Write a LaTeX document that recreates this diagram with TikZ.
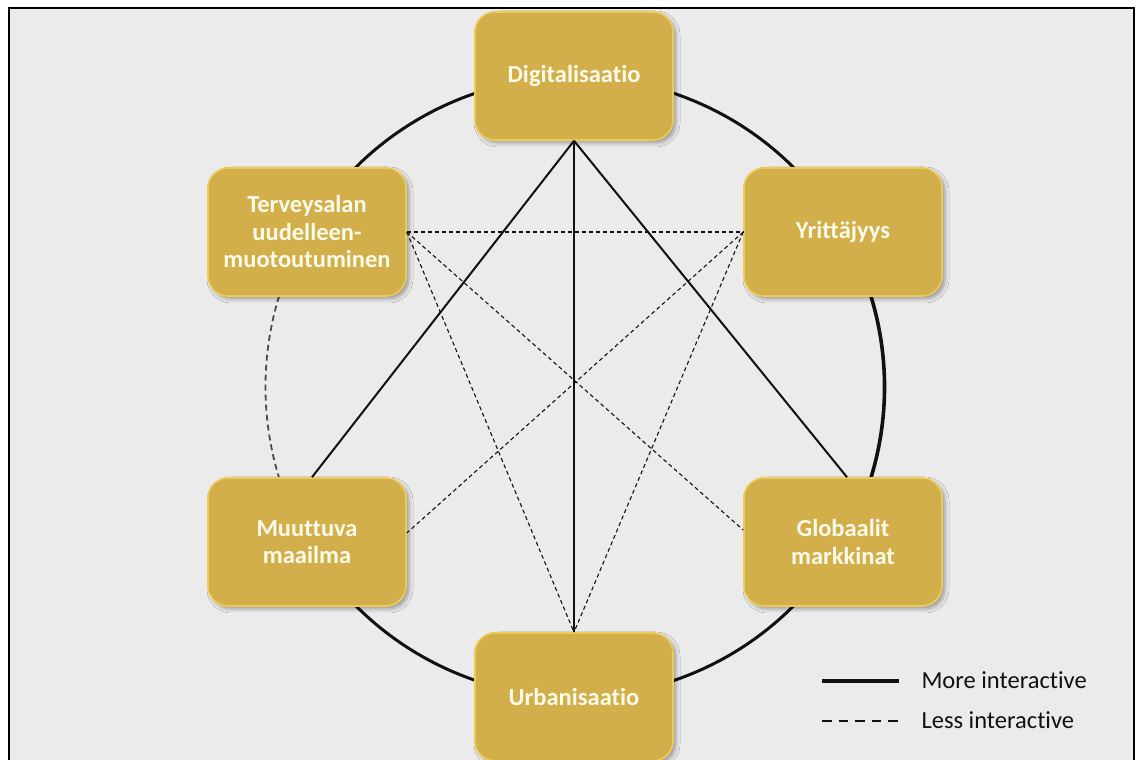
\documentclass[tikz,border=0pt]{standalone}
\usepackage{fontspec}
\setmainfont{Carlito}[Ligatures={NoCommon}]
\usetikzlibrary{calc,shadows.blur}
\definecolor{panel}{HTML}{EBEBEB}
\definecolor{gold}{HTML}{D3AF4B}
\definecolor{goldrim}{HTML}{EDCB58}
\definecolor{boxtext}{HTML}{FFFBEA}
\definecolor{ink}{HTML}{111111}
\tikzset{
  topic/.style={rounded corners=20pt, fill=gold, draw=goldrim, line width=1.6pt,
    minimum width=198pt, minimum height=128pt, align=center, text=boxtext,
    font=\fontsize{24.5}{27.5}\selectfont\bfseries,
    blur shadow={shadow xshift=3pt, shadow yshift=-3pt, shadow blur radius=4pt, shadow opacity=35}},
  ring/.style={line width=3pt, draw=ink},
  ringdash/.style={line width=1.8pt, draw=ink!75, dash pattern=on 6pt off 4pt},
  strong/.style={line width=2pt, draw=ink},
  weak/.style={line width=1.1pt, draw=ink, dash pattern=on 4pt off 3pt},
  legendtext/.style={anchor=west, font=\fontsize{24.5}{27}\selectfont, text=ink}
}
\begin{document}
\begin{tikzpicture}[x=1pt,y=1pt]
\useasboundingbox (0,0) rectangle (1136,760);
% frame and panel
\fill[white] (0,0) rectangle (1136,760);
\begin{scope}
  \clip (0,0) rectangle (1136,760);
  \draw[fill=panel, line width=2pt] (9,-20) rectangle (1134,752);
\end{scope}

% box positions on the ring (centre 574,373; radius 310)
\coordinate (ctr) at (574,373);
\coordinate (pD) at (574,684);
\coordinate (pY) at (843,528);
\coordinate (pG) at (843,218);
\coordinate (pU) at (574,63);
\coordinate (pM) at (307,218);
\coordinate (pT) at (307,528);

% ring arcs between neighbouring boxes
\draw[ring] (pY) arc[start angle=30, end angle=150, radius=310];
\draw[ring, line width=3.6pt] (pG) arc[start angle=-30, end angle=30, radius=310];
\draw[ring] (pU) arc[start angle=-90, end angle=-30, radius=310];
\draw[ring] (pM) arc[start angle=210, end angle=270, radius=310];
\draw[ringdash] (pT) arc[start angle=150, end angle=210, radius=310];

% topic boxes
\node[topic] (D) at (pD) {Digitalisaatio};
\node[topic] (Y) at (pY) {Yrittäjyys};
\node[topic] (G) at (pG) {Globaalit\\markkinat};
\node[topic] (U) at (pU) {Urbanisaatio};
\node[topic] (M) at (pM) {Muuttuva\\maailma};
\node[topic] (T) at (pT) {Terveysalan\\uudelleen-\\muotoutuminen};

% strong links
\draw[strong] (D.south) -- ($(M.north)+(5,0)$);
\draw[strong] (D.south) -- (U.north);
\draw[strong] (D.south) -- ($(G.north)+(4,0)$);

% weak links
\draw[weak] (T.east) -- (Y.west);
\draw[weak] (T.east) -- ($(G.west)+(0,12)$);
\draw[weak] (T.east) -- (U.north);
\draw[weak] (Y.west) -- ($(M.east)+(0,9)$);
\draw[weak] (Y.west) -- (U.north);

% legend
\coordinate (l1a) at (822,79);
\coordinate (l1b) at (899,79);
\coordinate (l2a) at (822,39);
\coordinate (l2b) at (899,39);
\draw[line width=3.2pt, draw=ink] (l1a) -- (l1b);
\draw[line width=1.6pt, draw=ink, dash pattern=on 9.5pt off 7pt] (l2a) -- (l2b);
\node[legendtext] (lt1) at (918,80) {More interactive};
\node[legendtext] (lt2) at (918,40) {Less interactive};
\end{tikzpicture}
\end{document}
